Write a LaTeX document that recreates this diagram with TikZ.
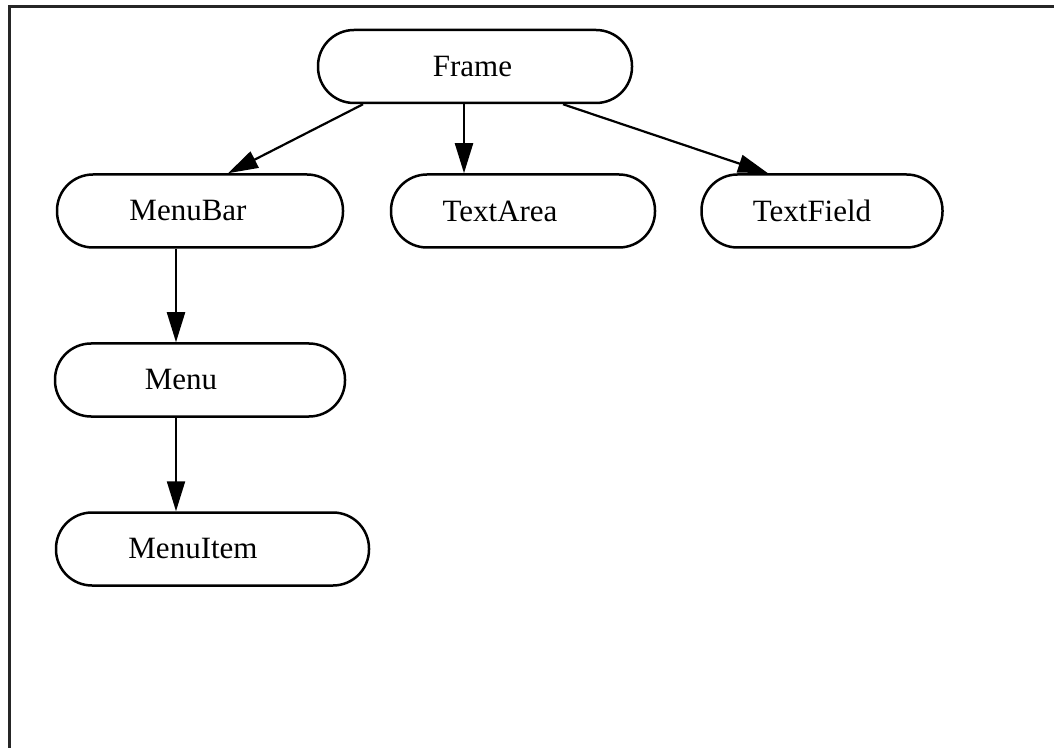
\documentclass[tikz,border=0pt]{standalone}
\usepackage{fontspec}
\setmainfont{Liberation Serif}
\usetikzlibrary{arrows.meta,calc}
\tikzset{
  cls/.style={draw=black, line width=1.25pt, rounded corners=18pt, minimum height=36.5pt,
    inner sep=0pt, font=\fontsize{15.5}{18}\selectfont, fill=white},
  link/.style={draw=black, line width=1.1pt, -{Triangle[length=15pt,width=9pt]}},
  frameline/.style={draw=black!85, line width=1.5pt}
}
\begin{document}
\begin{tikzpicture}[x=0.5pt,y=-0.5pt]
\useasboundingbox (0,0) rectangle (1054,748);
\draw[frameline] (1054,7) -- (9,7) -- (9,748);
\node[cls, minimum width=157pt] (frame) at (475,66.5) {\hspace*{-2.5pt}Frame};
\node[cls, minimum width=143pt] (menubar) at (200,211) {\hspace*{-12pt}MenuBar};
\node[cls, minimum width=132pt] (textarea) at (523,211) {\hspace*{-23pt}TextArea};
\node[cls, minimum width=120.5pt] (textfield) at (822,211) {\hspace*{-10pt}TextField};
\node[cls, minimum width=145pt] (menu) at (200,380) {\hspace*{-19pt}Menu};
\node[cls, minimum width=156.5pt] (menuitem) at (212.5,549) {\hspace*{-19.5pt}MenuItem};
\draw[link] ($(frame.south)+(-112,0)$) -- ($(menubar.north)+(28,0)$);
\draw[link] ($(frame.south)+(-11,0)$) -- ($(textarea.north)+(-59,0)$);
\draw[link] ($(frame.south)+(88,0)$) -- ($(textfield.north)+(-54,0)$);
\draw[link] ($(menubar.south)+(-24,0)$) -- ($(menu.north)+(-24,0)$);
\draw[link] ($(menu.south)+(-24,0)$) -- ($(menuitem.north)+(-36.5,0)$);
\end{tikzpicture}
\end{document}
